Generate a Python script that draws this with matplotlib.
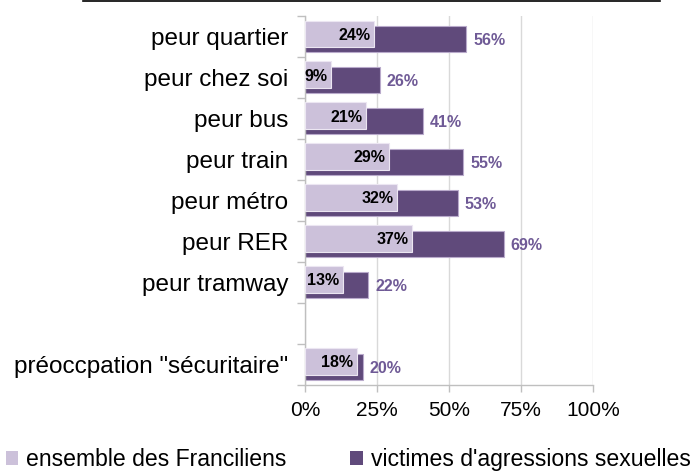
import numpy as np
import matplotlib
matplotlib.use("Agg")
import matplotlib.pyplot as plt
from matplotlib.patches import Patch
from matplotlib.lines import Line2D

categories = ['peur quartier', 'peur chez soi', 'peur bus', 'peur train',
              'peur métro', 'peur RER', 'peur tramway', '',
              'préoccpation "sécuritaire"']
ensemble = [24, 9, 21, 29, 32, 37, 13, np.nan, 18]
victimes = [56, 26, 41, 55, 53, 69, 22, np.nan, 20]
series_names = ['ensemble des Franciliens', "victimes d'agressions sexuelles"]

light = '#ccc1da'
dark = '#604a7b'
label_purple = '#6f5a96'

plt.rcParams['font.family'] = ['Liberation Sans', 'DejaVu Sans']

fig = plt.figure(figsize=(6.95, 4.71), dpi=100)
ax = fig.add_axes([0.439, 0.183, 0.414, 0.783])

y = np.arange(len(categories))
h = 0.65
off = 0.065

ax.barh(y + off, victimes, height=h, color=dark, edgecolor='#b9aacb',
        linewidth=0.8, zorder=2)
ax.barh(y - off, ensemble, height=h, color=light, edgecolor='#ece6f2',
        linewidth=0.8, zorder=3)

for i in range(len(categories)):
    if np.isnan(ensemble[i]):
        continue
    ax.annotate(f"{ensemble[i]:.0f}%", (ensemble[i], y[i] - off + 0.03),
                xytext=(-2.5, 0), textcoords='offset points',
                ha='right', va='center', fontsize=11.5, fontweight='bold',
                color='black', zorder=4)
    ax.annotate(f"{victimes[i]:.0f}%", (victimes[i], y[i] + off + 0.03),
                xytext=(5, 0), textcoords='offset points',
                ha='left', va='center', fontsize=11.5, fontweight='bold',
                color=label_purple, zorder=4)

ax.set_xlim(0, 100)
ax.set_ylim(len(categories) - 0.5, -0.5)
ax.set_xticks([0, 25, 50, 75, 100])
ax.set_xticklabels(['0%', '25%', '50%', '75%', '100%'], fontsize=15)
ax.set_yticks(y)
ax.set_yticklabels(categories, fontsize=17.5)
ax.set_yticks(np.arange(len(categories) + 1) - 0.5, minor=True)
ax.tick_params(axis='y', which='major', length=0, pad=12)
ax.tick_params(axis='y', which='minor', length=6, color='#bfbfbf', width=1)
ax.tick_params(axis='x', length=5, color='#bfbfbf', width=1, pad=7)

ax.grid(axis='x', color='#d9d9d9', linewidth=1, zorder=0)
ax.set_axisbelow(True)
for s in ['top', 'right']:
    ax.spines[s].set_visible(False)
for s in ['left', 'bottom']:
    ax.spines[s].set_color('#bfbfbf')
    ax.spines[s].set_linewidth(1)

# top rule
fig.add_artist(Line2D([0.12, 0.95], [0.998, 0.998], color='black',
                      linewidth=1.2, transform=fig.transFigure))

handles = [Patch(facecolor=light, edgecolor='none'),
           Patch(facecolor=dark, edgecolor='none')]
fig.legend(handles, series_names, loc='center', ncol=2,
           bbox_to_anchor=(0.501, 0.024), frameon=False, fontsize=16.6,
           handlelength=0.55, handleheight=0.55, handletextpad=0.35,
           columnspacing=2.75, borderaxespad=0)

fig.savefig('out.png', dpi=100)
